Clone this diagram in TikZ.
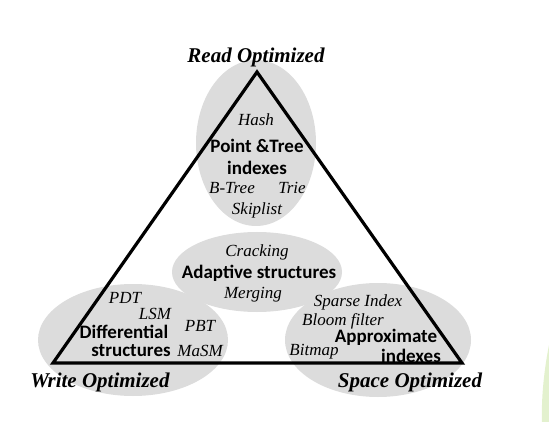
\documentclass[tikz,border=0pt]{standalone}
\usepackage{fontspec}
\setmainfont{Liberation Serif}
\newfontfamily\calib{Carlito}
\begin{document}
\begin{tikzpicture}[x=1pt,y=-1pt,
  blob/.style={fill=ellgray,draw=none},
  ex/.style={font=\fontsize{17}{17}\selectfont\itshape,inner sep=0pt},
  cat/.style={font=\fontsize{19}{19}\calib\bfseries,inner sep=0pt},
  corner/.style={font=\fontsize{21}{21}\selectfont\bfseries\itshape,inner sep=0pt}]
\definecolor{ellgray}{RGB}{220,220,220}
\definecolor{leaf}{RGB}{215,235,185}
\useasboundingbox (0,0) rectangle (549,422);
% ellipses
\fill[blob] (256,143) ellipse [x radius=60, y radius=83];
\fill[blob] (257,272) ellipse [x radius=85, y radius=40];
\fill[blob] (133,340) ellipse [x radius=95, y radius=56];
\fill[blob] (378,340) ellipse [x radius=93, y radius=57];
% faint leaf at right edge
\fill[leaf,opacity=0.7] (549,345) .. controls (545,365) and (541,395) .. (542,422) -- (549,422) -- cycle;
% triangle
\coordinate (top) at (257,72);
\coordinate (bl) at (53,363);
\coordinate (br) at (462,363);
\draw[line width=3.2pt,line join=miter] (top) -- (bl) -- (br) -- cycle;
% corner labels
\node[corner] (ro) at (256,57) {Read Optimized};
\node[corner] (wo) at (100,382) {Write Optimized};
\node[corner] (so) at (410,382) {Space Optimized};
% top
\node[ex] (hash) at (256,120) {Hash};
\node[cat] (pt1) at (257,146) {Point \&Tree};
\node[cat] (pt2) at (257,168) {indexes};
\node[ex] (btree) at (232,188) {B-Tree};
\node[ex] (trie) at (292,188) {Trie};
\node[ex] (skip) at (257,210) {Skiplist};
% middle
\node[ex] (crack) at (257,252) {Cracking};
\node[cat] (adapt) at (259,273) {Adaptive structures};
\node[ex] (merge) at (253,295) {Merging};
% bottom left
\node[ex] (pdt) at (125,298) {PDT};
\node[ex] (lsm) at (155,314) {LSM};
\node[ex] (pbt) at (200,326) {PBT};
\node[cat] (diff1) at (124,332) {Differential};
\node[cat] (diff2) at (131,351) {structures};
\node[ex] (masm) at (200,351) {MaSM};
% bottom right
\node[ex] (sparse) at (358,302) {Sparse Index};
\node[ex] (bloom) at (343,321) {Bloom filter};
\node[cat] (appr1) at (386,337) {Approximate};
\node[ex] (bitmap) at (314,352) {Bitmap};
\node[cat] (appr2) at (411,356) {indexes};
\end{tikzpicture}
\end{document}
